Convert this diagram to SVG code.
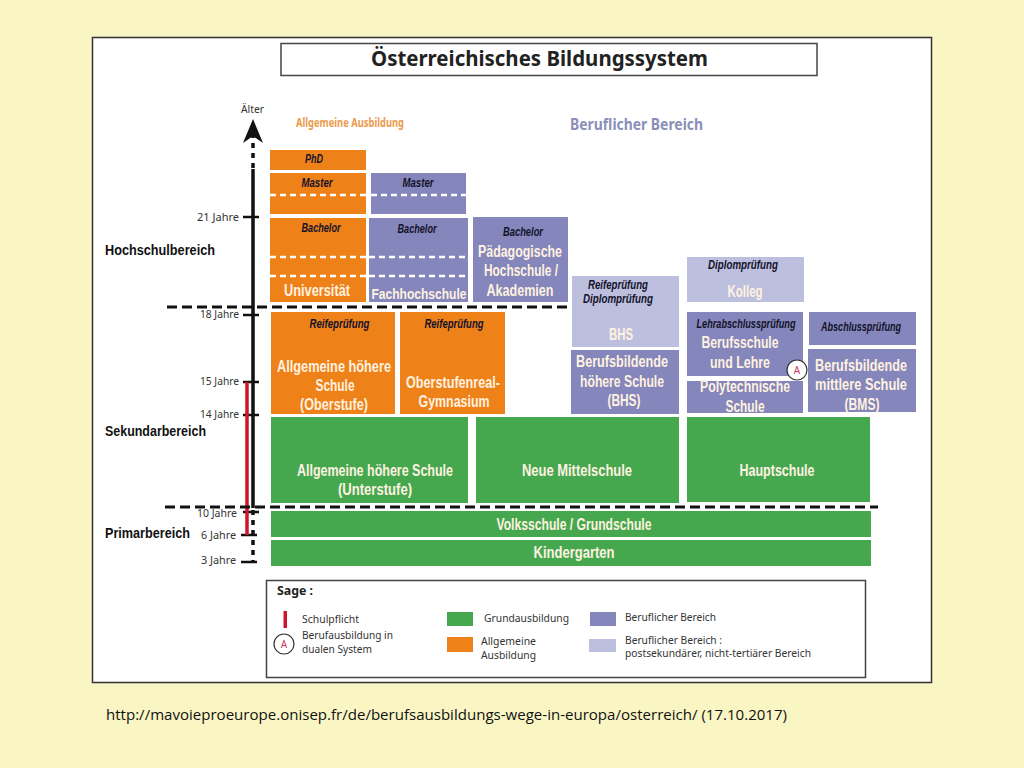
<svg xmlns="http://www.w3.org/2000/svg" width="1024" height="768" viewBox="0 0 1024 768">
<style>
text{font-family:"Noto Sans","Liberation Sans",sans-serif}
.or{fill:#ef8119}.pu{fill:#8586bb}.li{fill:#bdbfde}.gr{fill:#45a84f}
.w{fill:#fff2e0;font-weight:700;font-size:16px;text-anchor:middle;font-family:"Liberation Sans",sans-serif}
.e{fill:#12122a;font-weight:700;font-style:italic;font-size:12px;text-anchor:middle;font-family:"Liberation Sans",sans-serif}
.a{fill:#333;font-size:10.5px}
.s{fill:#111;font-weight:700;font-size:14px;font-family:"Liberation Sans",sans-serif}
.l{fill:#333;font-size:10.5px}
.wd{stroke:#fff;stroke-width:2.500;stroke-dasharray:6 4;fill:none}
.bd{stroke:#111;stroke-width:3;stroke-dasharray:10 5;fill:none}
.ax{stroke:#111;stroke-width:3.500;fill:none}
.tk{stroke:#111;stroke-width:2.500;fill:none}
.ad{stroke:#111;stroke-width:3.500;stroke-dasharray:5 5;fill:none}
</style>
<rect width="1024" height="768" fill="#f9f6c4"/>
<rect x="92.500" y="37.500" width="839" height="645" fill="#fff" stroke="#333" stroke-width="1.500"/>
<g id="title"><rect x="281" y="43.500" width="536" height="32" fill="#fff" stroke="#444" stroke-width="1.500"/>
<text x="371" y="66" font-size="21" font-weight="700" fill="#222" textLength="337" lengthAdjust="spacingAndGlyphs">Österreichisches Bildungssystem</text></g>
<text x="296" y="127" font-size="11.500" font-weight="700" fill="#ec9a4c" textLength="108" lengthAdjust="spacingAndGlyphs">Allgemeine Ausbildung</text>
<text x="570" y="130" font-size="16" font-weight="700" fill="#8a8fb8" textLength="133" lengthAdjust="spacingAndGlyphs">Beruflicher Bereich</text>
<g id="sections">
<text class="s" x="105" y="255" textLength="110" lengthAdjust="spacingAndGlyphs">Hochschulbereich</text>
<text class="s" x="105" y="436" textLength="101" lengthAdjust="spacingAndGlyphs">Sekundarbereich</text>
<text class="s" x="105" y="538" textLength="85" lengthAdjust="spacingAndGlyphs">Primarbereich</text>
</g>
<g id="n-phd"><rect class="or" x="270" y="150" width="96" height="20"/><text class="e" x="314" y="163" textLength="18" lengthAdjust="spacingAndGlyphs">PhD</text></g>
<g id="n-master-o"><rect class="or" x="270" y="173" width="96" height="41"/><path class="wd" d="M270 195H366"/><text class="e" x="317" y="187" textLength="31" lengthAdjust="spacingAndGlyphs">Master</text></g>
<g id="n-master-p"><rect class="pu" x="371" y="173" width="95" height="41"/><path class="wd" d="M371 195H466"/><text class="e" x="418" y="187" textLength="31" lengthAdjust="spacingAndGlyphs">Master</text></g>
<g id="n-uni"><rect class="or" x="270" y="218" width="96" height="84"/><path class="wd" d="M270 257H366M270 276H366"/><text class="e" x="321" y="232" textLength="39" lengthAdjust="spacingAndGlyphs">Bachelor</text><text class="w" x="317" y="296" textLength="66" lengthAdjust="spacingAndGlyphs">Universität</text></g>
<g id="n-fh"><rect class="pu" x="369" y="218" width="99" height="84"/><path class="wd" d="M369 257H468M369 276H468"/><text class="e" x="417" y="233" textLength="39" lengthAdjust="spacingAndGlyphs">Bachelor</text><text class="w" x="419" y="299" style="font-size:14.500px" textLength="95" lengthAdjust="spacingAndGlyphs">Fachhochschule</text></g>
<g id="n-ph"><rect class="pu" x="473" y="217" width="95" height="85"/><text class="e" x="523" y="236" textLength="40" lengthAdjust="spacingAndGlyphs">Bachelor</text><text class="w" x="520" y="257" textLength="84" lengthAdjust="spacingAndGlyphs">Pädagogische</text><text class="w" x="521" y="276" textLength="74" lengthAdjust="spacingAndGlyphs">Hochschule /</text><text class="w" x="520" y="296" textLength="67" lengthAdjust="spacingAndGlyphs">Akademien</text></g>
<g id="n-bhs-top"><rect class="li" x="572" y="276" width="107" height="71"/><text class="e" x="618" y="289" textLength="60" lengthAdjust="spacingAndGlyphs">Reifeprüfung</text><text class="e" x="618" y="303" textLength="70" lengthAdjust="spacingAndGlyphs">Diplomprüfung</text><text class="w" x="621" y="340" textLength="24" lengthAdjust="spacingAndGlyphs">BHS</text></g>
<g id="n-bhs"><rect class="pu" x="571" y="350" width="108" height="64"/><text class="w" x="622" y="367" textLength="92" lengthAdjust="spacingAndGlyphs">Berufsbildende</text><text class="w" x="622" y="387" textLength="84" lengthAdjust="spacingAndGlyphs">höhere Schule</text><text class="w" x="624" y="406" textLength="33" lengthAdjust="spacingAndGlyphs">(BHS)</text></g>
<g id="n-kolleg"><rect class="li" x="687" y="257" width="117" height="45"/><text class="e" x="743" y="269" textLength="70" lengthAdjust="spacingAndGlyphs">Diplomprüfung</text><text class="w" x="745" y="297" textLength="35" lengthAdjust="spacingAndGlyphs">Kolleg</text></g>
<g id="n-lehre"><rect class="pu" x="687" y="312" width="116" height="64"/><text class="e" x="746" y="328" textLength="99" lengthAdjust="spacingAndGlyphs">Lehrabschlussprüfung</text><text class="w" x="740" y="348" textLength="77" lengthAdjust="spacingAndGlyphs">Berufsschule</text><text class="w" x="740" y="368" textLength="60" lengthAdjust="spacingAndGlyphs">und Lehre</text></g>
<g id="n-poly"><rect class="pu" x="687" y="381" width="116" height="32"/><text class="w" x="745" y="392" textLength="90" lengthAdjust="spacingAndGlyphs">Polytechnische</text><text class="w" x="745" y="412" textLength="39" lengthAdjust="spacingAndGlyphs">Schule</text></g>
<g id="n-abschluss"><rect class="pu" x="809" y="312" width="107" height="33"/><text class="e" x="861" y="331" textLength="80" lengthAdjust="spacingAndGlyphs">Abschlussprüfung</text></g>
<g id="n-bms"><rect class="pu" x="808" y="349" width="108" height="63"/><text class="w" x="861" y="371" textLength="92" lengthAdjust="spacingAndGlyphs">Berufsbildende</text><text class="w" x="861" y="390" textLength="92" lengthAdjust="spacingAndGlyphs">mittlere Schule</text><text class="w" x="862" y="410" textLength="35" lengthAdjust="spacingAndGlyphs">(BMS)</text></g>
<g id="n-a"><circle cx="797" cy="370" r="10" fill="#fff" stroke="#333" stroke-width="1.200"/><text x="797" y="374" font-size="10" fill="#c8385c" text-anchor="middle">A</text></g>
<g id="n-ahs-o"><rect class="or" x="271" y="312" width="124" height="102"/><text class="e" x="339.500" y="328" textLength="60" lengthAdjust="spacingAndGlyphs">Reifeprüfung</text><text class="w" x="334" y="372" textLength="114" lengthAdjust="spacingAndGlyphs">Allgemeine höhere</text><text class="w" x="335" y="391" textLength="39" lengthAdjust="spacingAndGlyphs">Schule</text><text class="w" x="334" y="410" textLength="68" lengthAdjust="spacingAndGlyphs">(Oberstufe)</text></g>
<g id="n-orealg"><rect class="or" x="400" y="312" width="105" height="102"/><text class="e" x="454" y="328" textLength="59" lengthAdjust="spacingAndGlyphs">Reifeprüfung</text><text class="w" x="453" y="388" textLength="94" lengthAdjust="spacingAndGlyphs">Oberstufenreal-</text><text class="w" x="454" y="407" textLength="71" lengthAdjust="spacingAndGlyphs">Gymnasium</text></g>
<g id="n-ahs-u"><rect class="gr" x="271" y="417" width="197" height="86"/><text class="w" x="375" y="476" textLength="156" lengthAdjust="spacingAndGlyphs">Allgemeine höhere Schule</text><text class="w" x="375" y="495" textLength="74" lengthAdjust="spacingAndGlyphs">(Unterstufe)</text></g>
<g id="n-nms"><rect class="gr" x="476" y="417" width="203" height="86"/><text class="w" x="577" y="476" textLength="110" lengthAdjust="spacingAndGlyphs">Neue Mittelschule</text></g>
<g id="n-haupt"><rect class="gr" x="687" y="417" width="183" height="85"/><text class="w" x="777" y="476" textLength="75" lengthAdjust="spacingAndGlyphs">Hauptschule</text></g>
<g id="n-volks"><rect class="gr" x="271" y="511" width="600" height="26"/><text class="w" x="574" y="530" textLength="155" lengthAdjust="spacingAndGlyphs">Volksschule / Grundschule</text></g>
<g id="n-kinder"><rect class="gr" x="271" y="540" width="600" height="26"/><text class="w" x="574" y="558" textLength="81" lengthAdjust="spacingAndGlyphs">Kindergarten</text></g>
<g id="connectors">
<path class="ad" d="M253 168V136"/>
<path class="ax" d="M253 169V508"/>
<path class="ad" d="M253 510V562"/>
<path d="M253 119L263 143L253 136L243 143Z" fill="#111"/>
<path class="tk" d="M243 217H259M243 315H259M243 382H259M243 415H259M243 512H259M241 535H257M241 562H257"/>
<path d="M247 382V535" stroke="#d0142e" stroke-width="3.500" fill="none"/>
<path class="bd" d="M167 307H568M165 507H878"/>
</g>
<g id="ages">
<text class="a" x="197" y="220.500" textLength="42" lengthAdjust="spacingAndGlyphs">21  Jahre</text>
<text class="a" x="200" y="318" textLength="39" lengthAdjust="spacingAndGlyphs">18 Jahre</text>
<text class="a" x="200" y="385" textLength="39" lengthAdjust="spacingAndGlyphs">15 Jahre</text>
<text class="a" x="200" y="418" textLength="39" lengthAdjust="spacingAndGlyphs">14 Jahre</text>
<text class="a" x="197" y="517" textLength="40" lengthAdjust="spacingAndGlyphs">10 Jahre</text>
<text class="a" x="201" y="539" textLength="35" lengthAdjust="spacingAndGlyphs">6 Jahre</text>
<text class="a" x="201" y="564" textLength="35" lengthAdjust="spacingAndGlyphs">3 Jahre</text>
<text class="a" x="241" y="113" textLength="23" lengthAdjust="spacingAndGlyphs">Älter</text>
</g>
<g id="legend">
<rect x="266.500" y="580.500" width="599" height="97" fill="#fff" stroke="#444" stroke-width="1.500"/>
<text x="277" y="595" font-size="12" font-weight="700" fill="#222" textLength="36" lengthAdjust="spacingAndGlyphs">Sage :</text>
<rect x="283.500" y="611" width="3.500" height="17" fill="#d0142e"/>
<circle cx="284" cy="644" r="10" fill="#fff" stroke="#333" stroke-width="1.200"/>
<text x="284" y="648" font-size="10" fill="#c8385c" text-anchor="middle">A</text>
<rect class="gr" x="447" y="612" width="26" height="14"/>
<rect class="or" x="447" y="637" width="26" height="15"/>
<rect class="pu" x="590" y="612" width="26" height="14"/>
<rect class="li" x="589" y="639" width="27" height="13"/>
<text class="l" x="302" y="623" textLength="57" lengthAdjust="spacingAndGlyphs">Schulpflicht</text>
<text class="l" x="302" y="639" textLength="91" lengthAdjust="spacingAndGlyphs">Berufausbildung in</text>
<text class="l" x="302" y="653" textLength="70" lengthAdjust="spacingAndGlyphs">dualen System</text>
<text class="l" x="484" y="622" textLength="85" lengthAdjust="spacingAndGlyphs">Grundausbildung</text>
<text class="l" x="481" y="645" textLength="55" lengthAdjust="spacingAndGlyphs">Allgemeine</text>
<text class="l" x="481" y="659" textLength="55" lengthAdjust="spacingAndGlyphs">Ausbildung</text>
<text class="l" x="625" y="621" textLength="91" lengthAdjust="spacingAndGlyphs">Beruflicher Bereich</text>
<text class="l" x="625" y="644" textLength="97" lengthAdjust="spacingAndGlyphs">Beruflicher Bereich :</text>
<text class="l" x="625" y="657" textLength="186" lengthAdjust="spacingAndGlyphs">postsekundärer, nicht-tertiärer Bereich</text>
</g>
<text x="106" y="720" font-size="14.500" fill="#111" style="font-family:'Open Sans',sans-serif" textLength="681" lengthAdjust="spacingAndGlyphs">http://mavoieproeurope.onisep.fr/de/berufsausbildungs-wege-in-europa/osterreich/ (17.10.2017)</text>
</svg>
